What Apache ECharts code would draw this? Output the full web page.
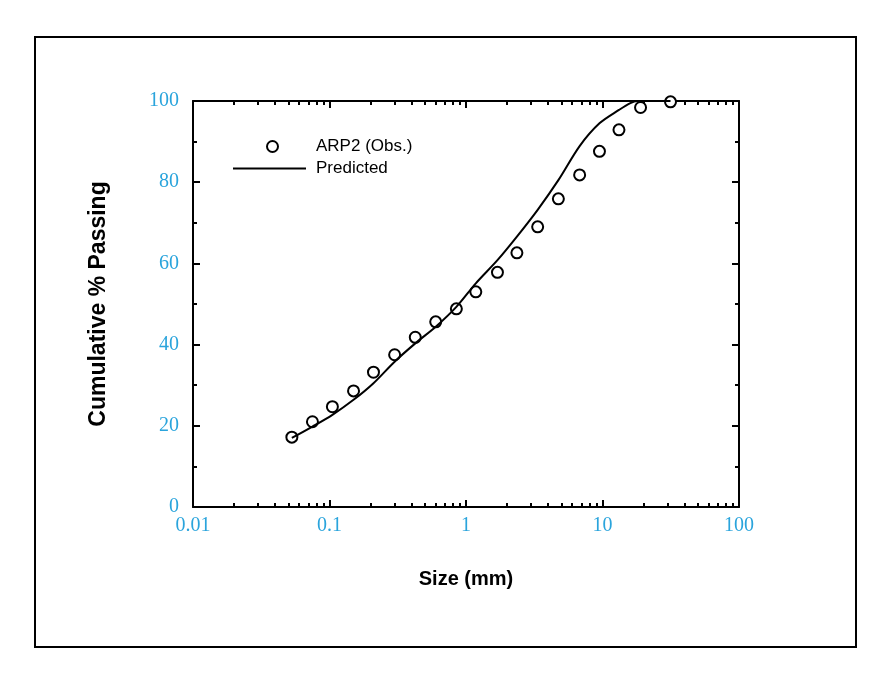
<!DOCTYPE html>
<html>
<head>
<meta charset="utf-8">
<script src="https://cdn.jsdelivr.net/npm/echarts@6/dist/echarts.min.js"></script>
<style>
  html, body { margin: 0; padding: 0; background: #fff; }
  #chart { width: 885px; height: 680px; }
</style>
</head>
<body>
<div id="chart"></div>
<script>
// observed gradation (sieve size in mm, % passing)
const obsSizes = [0.053, 0.075, 0.105, 0.15, 0.21, 0.3, 0.425, 0.6, 0.85, 1.18, 1.7, 2.36, 3.35, 4.75, 6.8, 9.5, 13.2, 19, 31.5];
const obsPassing = [17.2, 21.0, 24.7, 28.6, 33.2, 37.5, 41.8, 45.6, 48.8, 53.0, 57.8, 62.6, 69.0, 75.9, 81.8, 87.6, 92.9, 98.4, 99.8];

// predicted curve
const predSizes = [0.053, 0.075, 0.105, 0.15, 0.21, 0.3, 0.425, 0.6, 0.85, 1.18, 1.7, 2.36, 3.35, 4.75, 6.8, 9.5, 13.2, 16, 18, 31.5];
const predPassing = [17.0, 19.8, 22.7, 26.4, 30.5, 35.8, 40.3, 44.4, 49.3, 55.1, 60.8, 66.6, 73.2, 80.5, 88.9, 94.5, 97.8, 99.5, 100, 100];

// log axis minor ticks (2..9 of every decade)
const minorX = [];
[0.01, 0.1, 1, 10].forEach(d => {
    for (let k = 2; k <= 9; k++) minorX.push(+(d * k).toPrecision(3));
});

const blue = '#2aa4dc';
const black = '#000';

const chart = echarts.init(document.getElementById('chart'));

const labelStyle = {
    color: blue,
    fontFamily: 'Liberation Serif',
    fontSize: 20
};

function xAxisDef(pos, minor, withLabel) {
    return {
        type: 'log',
        logBase: 10,
        min: 0.01,
        max: 100,
        position: pos,
        splitLine: { show: false },
        axisLine: { show: !minor, onZero: false, lineStyle: { color: black, width: 2 } },
        axisTick: minor
            ? { inside: true, length: 4, customValues: minorX, lineStyle: { color: black, width: 2 } }
            : { inside: true, length: 7, lineStyle: { color: black, width: 2 } },
        axisLabel: withLabel
            ? Object.assign({ margin: 9, formatter: v => String(+v.toPrecision(3)) }, labelStyle)
            : { show: false }
    };
}

function yAxisDef(pos, withLabel) {
    return {
        type: 'value',
        min: 0,
        max: 100,
        interval: 20,
        position: pos,
        splitLine: { show: false },
        axisLine: { show: true, onZero: false, lineStyle: { color: black, width: 2 } },
        axisTick: { inside: true, length: 7, lineStyle: { color: black, width: 2 } },
        minorTick: { show: true, splitNumber: 2, length: 4, lineStyle: { color: black, width: 2 } },
        axisLabel: withLabel ? Object.assign({ margin: 14 }, labelStyle) : { show: false }
    };
}

const xMain = xAxisDef('bottom', false, true);
xMain.name = 'Size (mm)';
xMain.nameLocation = 'middle';
xMain.nameGap = 62;
xMain.nameTextStyle = { color: black, fontFamily: 'Liberation Sans', fontWeight: 'bold', fontSize: 20 };

const yMain = yAxisDef('left', true);
yMain.name = 'Cumulative % Passing';
yMain.nameLocation = 'middle';
yMain.nameGap = 83;
yMain.nameRotate = 90;
yMain.nameTextStyle = { color: black, fontFamily: 'Liberation Sans', fontWeight: 'bold', fontSize: 23 };

chart.setOption({
    animation: false,
    backgroundColor: '#fff',
    grid: { left: 193, right: 146, top: 101, bottom: 173 },
    legend: [
        {
            data: [{ name: 'ARP2 (Obs.)', icon: 'circle' }],
            left: 261,
            top: 133,
            itemWidth: 11,
            itemHeight: 11,
            selectedMode: false,
            textStyle: { color: black, fontFamily: 'Liberation Sans', fontSize: 17, padding: [0, 0, 0, 33] }
        },
        {
            data: [{ name: 'Predicted', icon: 'rect' }],
            left: 228,
            top: 155,
            itemWidth: 73,
            itemHeight: 2,
            selectedMode: false,
            textStyle: { color: black, fontFamily: 'Liberation Sans', fontSize: 17, padding: [0, 0, 0, 5] }
        }
    ],
    xAxis: [
        xMain,
        xAxisDef('bottom', true, false),
        xAxisDef('top', false, false),
        xAxisDef('top', true, false)
    ],
    yAxis: [
        yMain,
        yAxisDef('right', false)
    ],
    graphic: [
        {
            type: 'rect',
            shape: { x: 35, y: 37, width: 821, height: 610 },
            style: { fill: 'none', stroke: black, lineWidth: 2 }
        }
    ],
    series: [
        {
            name: 'Predicted',
            type: 'line',
            xAxisIndex: 0,
            yAxisIndex: 0,
            symbol: 'none',
            smooth: 0.3,
            lineStyle: { color: black, width: 2 },
            itemStyle: { color: black },
            data: predSizes.map((s, i) => [s, predPassing[i]])
        },
        {
            name: 'ARP2 (Obs.)',
            type: 'scatter',
            xAxisIndex: 0,
            yAxisIndex: 0,
            symbol: 'circle',
            symbolSize: 11,
            clip: false,
            itemStyle: { color: '#fff', borderColor: black, borderWidth: 2, opacity: 1 },
            data: obsSizes.map((s, i) => [s, obsPassing[i]])
        }
    ]
});
</script>
</body>
</html>
